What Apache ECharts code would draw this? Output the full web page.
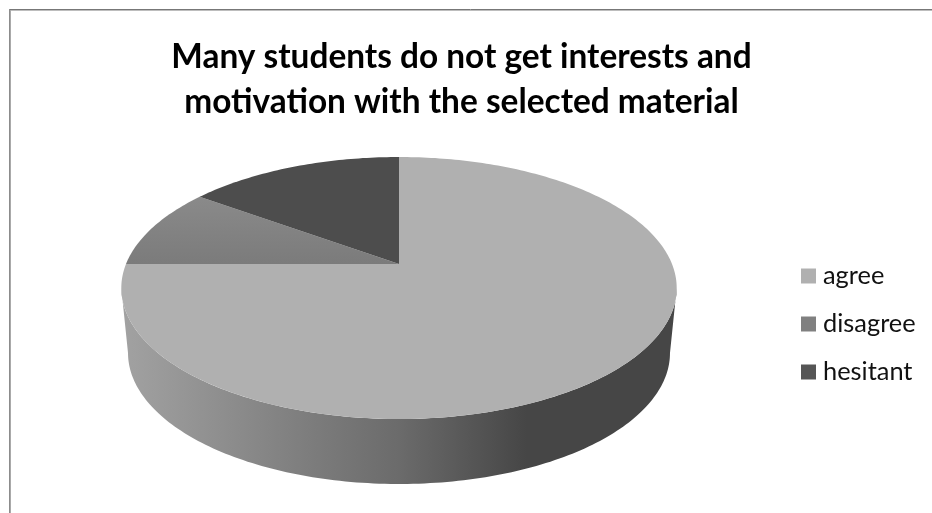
<!DOCTYPE html>
<html>
<head>
<meta charset="utf-8">
<style>html,body{margin:0;padding:0;background:#fff}#chart{width:932px;height:513px}</style>
<script src="https://cdn.jsdelivr.net/npm/echarts@6/dist/echarts.min.js"></script>
</head>
<body>
<div id="chart"></div>
<script>
const categories = ['agree', 'disagree', 'hesitant'];
const shares = [75, 10, 15];
const swatchColors = ['#b0b0b0', '#808080', '#555555'];
const titleLines = ['Many students do not get interests and', 'motivation with the selected material'];

// Perspective disc: rim point for a clockwise angle measured from 12 o'clock.
const cx = 399;
const tilt = 0.1832;
const topRim = { y0: 264, R: 273, k: 126.6 };
const lowRim = { y0: 329, R: 266.4, k: 126.6 };
const rimTurn = Math.acos(-tilt) * 180 / Math.PI;

function rimPoint(rim, deg) {
  const t = deg * Math.PI / 180;
  const w = 1 + tilt * Math.cos(t);
  return [cx + rim.R * Math.sin(t) / w, rim.y0 - rim.k * Math.cos(t) / w];
}
function arc(rim, from, to) {
  const n = Math.max(2, Math.ceil(Math.abs(to - from)));
  const pts = [];
  for (let i = 0; i <= n; i++) pts.push(rimPoint(rim, from + (to - from) * i / n));
  return pts;
}

const total = shares.reduce((a, b) => a + b, 0);
const starts = shares.map((_, i) => shares.slice(0, i).reduce((a, b) => a + b, 0));

const faceFills = [
  swatchColors[0],
  new echarts.graphic.LinearGradient(0, 0, 0, 1, [
    { offset: 0, color: '#8a8a8a' }, { offset: 1, color: '#7b7b7b' }
  ]),
  '#4d4d4d'
];
const wallFill = new echarts.graphic.LinearGradient(0, 0, 1, 0, [
  { offset: 0, color: '#a2a2a2' },
  { offset: 0.5, color: '#6b6b6b' },
  { offset: 0.73, color: '#464646' },
  { offset: 1, color: '#464646' }
]);

function sliceRenderer(index) {
  return function (params, api) {
    const from = starts[index] / total * 360;
    const to = from + api.value(0) / total * 360;
    const children = [];
    const wallFrom = Math.max(from, rimTurn);
    const wallTo = Math.min(to, 360 - rimTurn);
    if (wallTo > wallFrom) {
      children.push({
        type: 'polygon',
        shape: { points: arc(topRim, wallFrom, wallTo).concat(arc(lowRim, wallTo, wallFrom)) },
        style: { fill: wallFill }
      });
    }
    children.push({
      type: 'polygon',
      shape: { points: [[cx, topRim.y0]].concat(arc(topRim, from, to)) },
      style: { fill: faceFills[index] }
    });
    return { type: 'group', children: children };
  };
}

const chart = echarts.init(document.getElementById('chart'), null, { renderer: 'canvas' });
chart.setOption({
  animation: false,
  backgroundColor: '#ffffff',
  title: {
    text: titleLines.join('\n'),
    left: 456.5,
    top: 30,
    textAlign: 'center',
    textStyle: { fontFamily: 'Lato', fontWeight: 'bold', fontSize: 33.4, lineHeight: 45, color: '#000000' }
  },
  legend: {
    data: categories,
    orient: 'vertical',
    left: 801,
    top: 262,
    icon: 'rect',
    itemWidth: 15,
    itemHeight: 15,
    itemGap: 20,
    padding: 0,
    selectedMode: false,
    textStyle: { fontFamily: 'Lato', fontSize: 25.4, lineHeight: 28, color: '#111111', padding: [0, 0, 0, 2] }
  },
  graphic: [
    { type: 'line', silent: true, shape: { x1: 9, y1: 9.5, x2: 932, y2: 9.5 }, style: { stroke: '#777777', lineWidth: 1 } },
    { type: 'line', silent: true, shape: { x1: 10, y1: 10.5, x2: 932, y2: 10.5 }, style: { stroke: '#bdbdbd', lineWidth: 1 } },
    { type: 'line', silent: true, shape: { x1: 9.5, y1: 9, x2: 9.5, y2: 513 }, style: { stroke: '#8c8c8c', lineWidth: 1 } },
    { type: 'line', silent: true, shape: { x1: 10.5, y1: 10, x2: 10.5, y2: 513 }, style: { stroke: '#aaaaaa', lineWidth: 1 } }
  ],
  series: categories.map((name, i) => ({
    type: 'custom',
    name: name,
    coordinateSystem: 'none',
    silent: true,
    itemStyle: { color: swatchColors[i] },
    renderItem: sliceRenderer(i),
    data: [[shares[i]]]
  }))
});
</script>
</body>
</html>
